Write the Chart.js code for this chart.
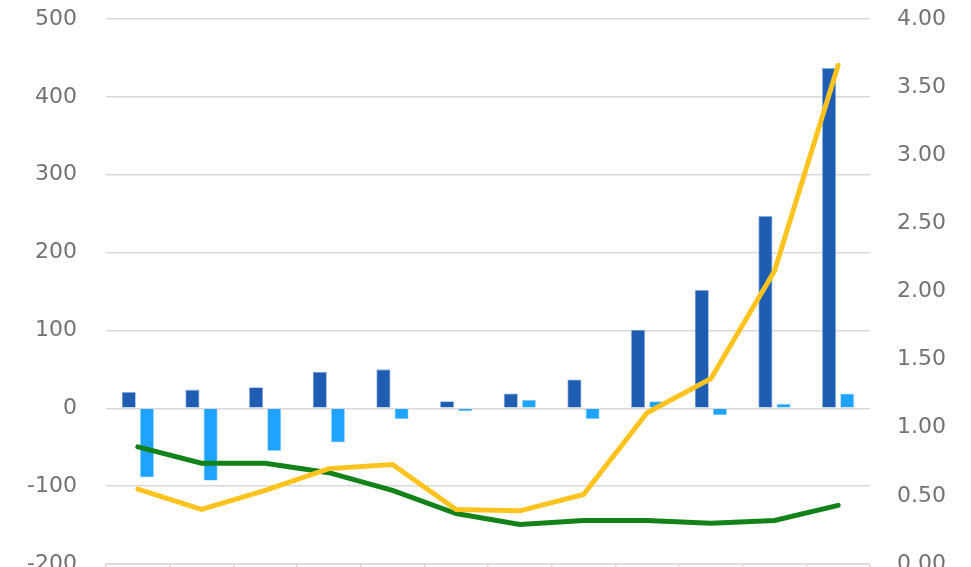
<!DOCTYPE html>
<html>
<head>
<meta charset="utf-8">
<script src="https://cdn.jsdelivr.net/npm/chart.js@4"></script>
<style>
  html, body { margin: 0; padding: 0; background: #fff; }
  #wrap { width: 971px; height: 567px; }
</style>
</head>
<body>
<div id="wrap"><canvas id="Graph"></canvas></div>
<script>
const categories = ['1', '2', '3', '4', '5', '6', '7', '8', '9', '10', '11', '12'];
const barsDark = [21, 24, 27, 47, 50, 9, 19, 37, 101, 152, 247, 437];
const barsLight = [-89, -93, -55, -44, -14, -4, 11, -14, 9, -9, 6, 19];
const lineGreen = [0.86, 0.74, 0.74, 0.67, 0.54, 0.37, 0.29, 0.32, 0.32, 0.30, 0.32, 0.43];
const lineYellow = [0.55, 0.40, 0.54, 0.70, 0.73, 0.40, 0.39, 0.51, 1.11, 1.36, 2.15, 3.66];
const leftTicks = [-200, -100, 0, 100, 200, 300, 400, 500];
const rightTicks = [0, 0.5, 1, 1.5, 2, 2.5, 3, 3.5, 4];

const ctx = document.getElementById('Graph');
const tickFont = { family: 'DejaVu Sans', size: 22 };

new Chart(ctx, {
    type: 'bar',
    data: {
        labels: categories,
        datasets: [
            {
                type: 'line',
                label: 'yellow',
                data: lineYellow,
                yAxisID: 'y2',
                borderColor: '#FFC31F',
                borderWidth: 5,
                pointRadius: 0,
                tension: 0,
                borderCapStyle: 'round',
                order: 0
            },
            {
                type: 'line',
                label: 'green',
                data: lineGreen,
                yAxisID: 'y2',
                borderColor: '#138219',
                borderWidth: 5,
                pointRadius: 0,
                tension: 0,
                borderCapStyle: 'round',
                order: 1
            },
            {
                label: 'dark',
                data: barsDark,
                yAxisID: 'y',
                backgroundColor: '#1F5DB3',
                borderColor: '#8fb0dd',
                borderWidth: 0.8,
                order: 2
            },
            {
                label: 'light',
                data: barsLight,
                yAxisID: 'y',
                backgroundColor: '#1FA3FF',
                borderColor: '#a8dbff',
                borderWidth: 0.8,
                order: 3
            }
        ]
    },
    options: {
        responsive: true,
        maintainAspectRatio: false,
        animation: false,
        layout: { padding: { top: 19, left: 0, right: 0, bottom: 0 } },
        plugins: {
            legend: { display: false },
            tooltip: { enabled: false }
        },
        datasets: {
            bar: { categoryPercentage: 0.57, barPercentage: 0.78 }
        },
        scales: {
            x: {
                offset: true,
                grid: {
                    offset: true,
                    drawOnChartArea: false,
                    drawTicks: true,
                    tickLength: 8,
                    color: '#d9d9d9',
                    lineWidth: 1.5
                },
                border: { display: true, color: '#d9d9d9', width: 1.5 },
                ticks: { display: false },
                afterFit: function (s) { s.height = 3; }
            },
            y: {
                position: 'left',
                min: -200,
                max: 500,
                afterBuildTicks: function (s) { s.ticks = leftTicks.map(v => ({ value: v })); },
                grid: { color: '#d9d9d9', lineWidth: 1.5, drawTicks: false },
                border: { display: false },
                ticks: {
                    font: tickFont,
                    color: '#737373',
                    padding: 29,
                    callback: v => String(v)
                },
                afterFit: function (s) {
                    s.width = 106;
                    s.paddingTop = 0;
                    s.paddingBottom = 0;
                }
            },
            y2: {
                position: 'right',
                min: 0,
                max: 4,
                afterBuildTicks: function (s) { s.ticks = rightTicks.map(v => ({ value: v })); },
                grid: { drawOnChartArea: false, drawTicks: false },
                border: { display: false },
                ticks: {
                    font: tickFont,
                    color: '#737373',
                    padding: 27,
                    callback: v => Number(v).toFixed(2)
                },
                afterFit: function (s) {
                    s.width = 101;
                    s.paddingTop = 0;
                    s.paddingBottom = 0;
                }
            }
        }
    }
});
</script>
</body>
</html>
